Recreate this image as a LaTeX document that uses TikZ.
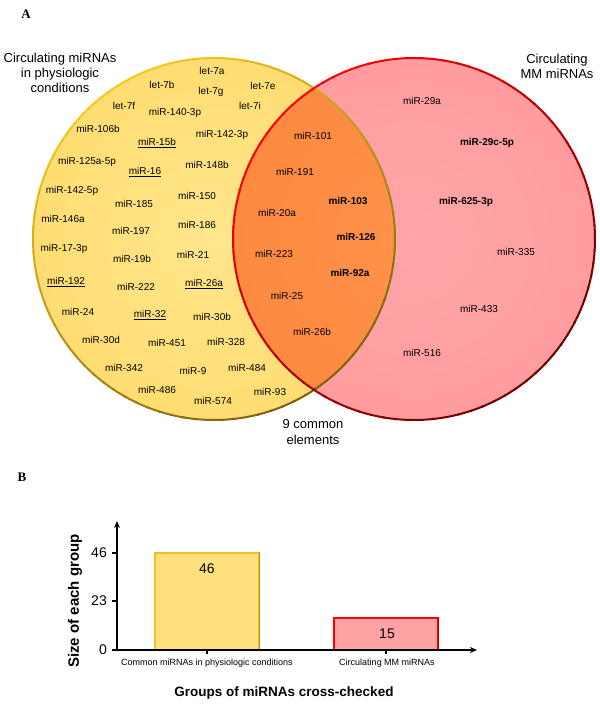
\documentclass[tikz,border=0pt]{standalone}
\usepackage{fontspec}
\setmainfont{Liberation Sans}
\newfontfamily\lettersf{Liberation Serif}
\usetikzlibrary{arrows.meta}
\definecolor{yfillin}{HTML}{FFE68C}
\definecolor{yfillout}{HTML}{FFDD72}
\definecolor{rfillin}{HTML}{FFA6A8}
\definecolor{rfillout}{HTML}{FF9C9F}
\definecolor{ofillin}{HTML}{FF924A}
\definecolor{ofillout}{HTML}{FD8A40}
\definecolor{ylight}{HTML}{F4C81C}
\definecolor{ydark}{HTML}{7C6010}
\definecolor{rlight}{HTML}{FF0000}
\definecolor{rdark}{HTML}{680000}
\definecolor{ybarfill}{HTML}{FFE07C}
\definecolor{ybarline}{HTML}{EDC020}
\definecolor{ybardark}{HTML}{B89000}
\definecolor{rbarfill}{HTML}{FFA2A4}
\definecolor{rbarline}{HTML}{FF0000}
\definecolor{rbardark}{HTML}{B00000}
\begin{document}
\begin{tikzpicture}[x=1pt,y=-1pt,
  mir/.style={font=\fontsize{10}{12}\selectfont, inner sep=0pt, text=black},
  mirb/.style={inner sep=0pt, text=black, font=\fontsize{10}{12}\selectfont\bfseries},
  head/.style={font=\fontsize{13}{15}\selectfont, align=center, inner sep=0pt},
  panel/.style={font=\lettersf\bfseries\fontsize{13}{15}\selectfont, inner sep=0pt},
  axisline/.style={line width=1.8pt, -{Stealth[length=7pt,width=6pt]}},
  tickline/.style={line width=1.2pt},
  ticklabel/.style={font=\fontsize{14}{16}\selectfont, inner sep=0pt},
  val/.style={font=\fontsize{14}{16}\selectfont, inner sep=0pt},
  cat/.style={font=\fontsize{9}{11}\selectfont, inner sep=0pt},
  xtitle/.style={font=\fontsize{13.5}{16}\selectfont\bfseries, inner sep=0pt},
  ytitle/.style={font=\fontsize{15}{17}\selectfont\bfseries, inner sep=0pt},
  ybar/.style={draw=ybarline, fill=ybarfill, line width=1.3pt, inner sep=0pt},
  rbar/.style={draw=rbarline, fill=rbarfill, line width=1.3pt, inner sep=0pt}
]
\useasboundingbox (0,0) rectangle (600,705);

% ---------- Panel A: Venn ----------
\node[panel] (pA) at (26,14) {A};
\coordinate (Y) at (214,239);
\coordinate (R) at (414,239);

\shade[inner color=yfillin, outer color=yfillout] (Y) circle[radius=181pt];
\shade[inner color=rfillin, outer color=rfillout] (R) circle[radius=181pt];
\begin{scope}
  \clip (Y) circle[radius=181pt];
  \shade[inner color=ofillin, outer color=ofillout] (R) circle[radius=181pt];
\end{scope}

% outlines with light-to-dark gradient
\foreach \a in {0,4,...,356} {
  \pgfmathtruncatemacro\t{50+50*cos(\a+60)}
  \draw[color=ydark!\t!ylight, line width=2pt] (Y) ++(\a:181pt) arc[start angle=\a, end angle=\a+4.6, radius=181pt];
}
\foreach \a in {0,4,...,356} {
  \pgfmathtruncatemacro\t{50+50*cos(\a+50)}
  \draw[color=rdark!\t!rlight, line width=2pt] (R) ++(\a:181pt) arc[start angle=\a, end angle=\a+4.6, radius=181pt];
}

\node[head] (hL) at (60,73) {Circulating miRNAs\\in physiologic\\conditions};
\node[head] (hR) at (557,66) {Circulating\\MM miRNAs};
\node[head, font=\fontsize{13}{16}\selectfont] (hC) at (313,432) {9 common\\elements};

% physiologic-only miRNAs
\foreach \x/\y/\t [count=\i] in {
  212/71/{let-7a}, 162/85/{let-7b}, 211/92/{let-7g}, 263/86/{let-7e},
  124/106/{let-7f}, 175/113/{miR-140-3p}, 250/106/{let-7i},
  98/129/{miR-106b}, 157/143/{\underline{miR-15b}}, 222/135/{miR-142-3p},
  87/162/{miR-125a-5p}, 145/172/{\underline{miR-16}}, 207/165/{miR-148b},
  72/191/{miR-142-5p}, 197/196/{miR-150}, 134/204/{miR-185},
  63/219/{miR-146a}, 131/231/{miR-197}, 197/225/{miR-186},
  64/249/{miR-17-3p}, 132/259/{miR-19b}, 193/255/{miR-21},
  66/282/{\underline{miR-192}}, 136/287/{miR-222}, 204/284/{\underline{miR-26a}},
  78/312/{miR-24}, 150/315/{\underline{miR-32}}, 212/317/{miR-30b},
  101/340/{miR-30d}, 167/343/{miR-451}, 226/342/{miR-328},
  124/368/{miR-342}, 193/371/{miR-9}, 247/368/{miR-484},
  157/390/{miR-486}, 213/401/{miR-574}, 270/392/{miR-93}}
  \node[mir] (L\i) at (\x,\y) {\t};

% common miRNAs
\foreach \x/\y/\t [count=\i] in {
  313/136/{miR-101}, 295/172/{miR-191}, 277/213/{miR-20a},
  274/254/{miR-223}, 287/296/{miR-25}, 312/332/{miR-26b}}
  \node[mir] (C\i) at (\x,\y) {\t};
\foreach \x/\y/\t [count=\i] in {
  348/201/{miR-103}, 356/237/{miR-126}, 350/273/{miR-92a}}
  \node[mirb] (CB\i) at (\x,\y) {\t};

% MM-only miRNAs
\foreach \x/\y/\t [count=\i] in {
  422/101/{miR-29a}, 516/252/{miR-335}, 479/309/{miR-433}, 422/353/{miR-516}}
  \node[mir] (M\i) at (\x,\y) {\t};
\foreach \x/\y/\t [count=\i] in {
  487/143/{miR-29c-5p}, 466/202/{miR-625-3p}}
  \node[mirb] (MB\i) at (\x,\y) {\t};

% ---------- Panel B: bar chart ----------
\node[panel] (pB) at (22,477) {B};

\node[ybar, minimum width=104pt, minimum height=97pt] (bar1) at (207,601.5) {};
\draw[ybardark, line width=1.3pt] (bar1.north east) -- (bar1.south east);
\node[rbar, minimum width=104pt, minimum height=32pt] (bar2) at (386,634) {};
\draw[rbardark, line width=1.3pt] (bar2.north east) -- (bar2.south east);

\coordinate (O) at (117,650);
\coordinate (xstart) at (113,650);
\coordinate (yend) at (117,521);
\coordinate (xend) at (477,650);
\draw[axisline] (xstart) -- (xend);
\draw[axisline] (O) -- (yend);

\foreach \v/\yy in {46/553, 23/601, 0/650} {
  \coordinate (t\v) at (117,\yy);
  \draw[tickline] (t\v) -- ++(-5,0);
  \node[ticklabel, anchor=east] (tl\v) at (107,\yy) {\v};
}
\coordinate (xt1) at (207,650);
\coordinate (xt2) at (386,650);
\draw[tickline] (xt1) -- ++(0,4);
\draw[tickline] (xt2) -- ++(0,4);

\node[val] (v1) at (207,569) {46};
\node[val] (v2) at (387,634) {15};
\node[cat] (c1) at (207,663) {Common miRNAs in physiologic conditions};
\node[cat] (c2) at (387,663) {Circulating MM miRNAs};
\node[xtitle] (xt) at (284,693) {Groups of miRNAs cross-checked};
\node[ytitle, rotate=90] (yt) at (75,601) {Size of each group};
\end{tikzpicture}
\end{document}
